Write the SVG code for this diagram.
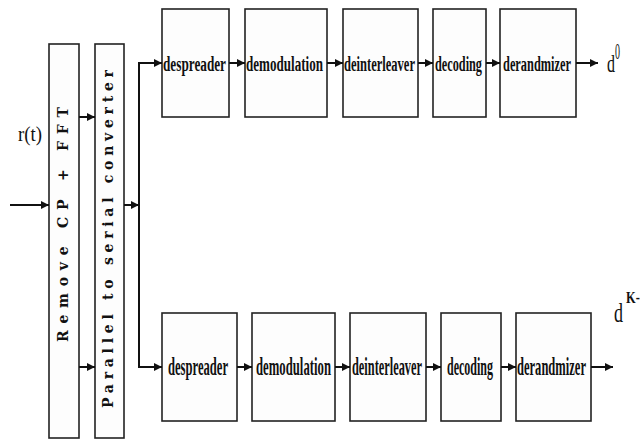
<svg xmlns="http://www.w3.org/2000/svg" width="640" height="440" viewBox="0 0 640 440">
<defs>
<marker id="ah" viewBox="0 0 8 8" refX="8" refY="4" markerWidth="4" markerHeight="4" orient="auto" markerUnits="strokeWidth">
<path d="M0,0 L8,4 L0,8 Z" fill="#111"/>
</marker>
<style>
.box{fill:#fdfdfd;stroke:#222;stroke-width:1.6}
.lbl{font-family:"Liberation Serif","DejaVu Serif",serif;font-weight:bold;fill:#111}
.rot{font-family:"DejaVu Serif","Liberation Serif",serif;font-weight:bold;fill:#111;font-size:14px}
.reg{font-family:"Liberation Serif","DejaVu Serif",serif;font-weight:normal;fill:#111}
.w{stroke:#111;stroke-width:2;fill:none}
.a{stroke:#111;stroke-width:2;fill:none;marker-end:url(#ah)}
</style>
</defs>
<rect width="640" height="440" fill="#ffffff"/>

<g id="remove">
<rect class="box" x="49" y="44" width="30" height="394"/>
<text class="rot" transform="translate(68,342) rotate(-90)" textLength="235" lengthAdjust="spacing">Remove CP + FFT</text>
</g>
<g id="p2s">
<rect class="box" x="95" y="44" width="29" height="394"/>
<text class="rot" transform="translate(113,408) rotate(-90)" textLength="338" lengthAdjust="spacing">Parallel to serial converter</text>
</g>

<g id="despreader0"><rect class="box" x="162" y="9" width="67" height="108"/><text class="lbl" x="163" y="71" font-size="20" textLength="63" lengthAdjust="spacingAndGlyphs">despreader</text></g>
<g id="demod0"><rect class="box" x="245" y="9" width="82" height="108"/><text class="lbl" x="246" y="71" font-size="20" textLength="77" lengthAdjust="spacingAndGlyphs">demodulation</text></g>
<g id="deint0"><rect class="box" x="343" y="9" width="75" height="108"/><text class="lbl" x="344" y="71" font-size="20" textLength="71" lengthAdjust="spacingAndGlyphs">deinterleaver</text></g>
<g id="decod0"><rect class="box" x="433" y="9" width="53" height="108"/><text class="lbl" x="435" y="71" font-size="20" textLength="47" lengthAdjust="spacingAndGlyphs">decoding</text></g>
<g id="derand0"><rect class="box" x="500" y="9" width="76" height="108"/><text class="lbl" x="503" y="71" font-size="20" textLength="68" lengthAdjust="spacingAndGlyphs">derandmizer</text></g>

<g id="despreader1"><rect class="box" x="162" y="313" width="75" height="108"/><text class="lbl" x="168" y="375" font-size="26" textLength="60" lengthAdjust="spacingAndGlyphs">despreader</text></g>
<g id="demod1"><rect class="box" x="252" y="313" width="83" height="108"/><text class="lbl" x="256" y="375" font-size="26" textLength="75" lengthAdjust="spacingAndGlyphs">demodulation</text></g>
<g id="deint1"><rect class="box" x="350" y="313" width="76" height="108"/><text class="lbl" x="352" y="375" font-size="26" textLength="70" lengthAdjust="spacingAndGlyphs">deinterleaver</text></g>
<g id="decod1"><rect class="box" x="441" y="313" width="60" height="108"/><text class="lbl" x="447" y="375" font-size="26" textLength="46" lengthAdjust="spacingAndGlyphs">decoding</text></g>
<g id="derand1"><rect class="box" x="516" y="313" width="75" height="108"/><text class="lbl" x="517" y="375" font-size="26" textLength="69" lengthAdjust="spacingAndGlyphs">derandmizer</text></g>

<g id="labels">
<text class="reg" x="18" y="141" font-size="22" textLength="24" lengthAdjust="spacingAndGlyphs">r(t)</text>
<text class="reg" x="607" y="72" font-size="25" textLength="8" lengthAdjust="spacingAndGlyphs">d</text>
<text class="reg" x="615" y="59" font-size="24" textLength="5" lengthAdjust="spacingAndGlyphs">0</text>
<text class="reg" x="614" y="322" font-size="28" textLength="9" lengthAdjust="spacingAndGlyphs">d</text>
<text class="lbl" x="626" y="303" font-size="16" textLength="20" lengthAdjust="spacingAndGlyphs">K-1</text>
</g>

<g id="connectors">
<line class="a" x1="10" y1="205" x2="49" y2="205"/>
<line class="a" x1="79" y1="117" x2="95" y2="117"/>
<line class="a" x1="79" y1="367" x2="95" y2="367"/>
<line class="a" x1="124" y1="205" x2="139" y2="205"/>
<polyline class="w" points="150,63 139,63 139,367 150,367"/>
<line class="a" x1="139" y1="63" x2="162" y2="63"/>
<line class="a" x1="139" y1="367" x2="162" y2="367"/>
<line class="a" x1="229" y1="63" x2="245" y2="63"/>
<line class="a" x1="327" y1="63" x2="343" y2="63"/>
<line class="a" x1="418" y1="63" x2="433" y2="63"/>
<line class="a" x1="486" y1="63" x2="500" y2="63"/>
<line class="a" x1="576" y1="63" x2="598" y2="63"/>
<line class="a" x1="237" y1="367" x2="252" y2="367"/>
<line class="a" x1="335" y1="367" x2="350" y2="367"/>
<line class="a" x1="426" y1="367" x2="441" y2="367"/>
<line class="a" x1="501" y1="367" x2="516" y2="367"/>
<line class="a" x1="591" y1="367" x2="613" y2="367"/>
</g>
</svg>
